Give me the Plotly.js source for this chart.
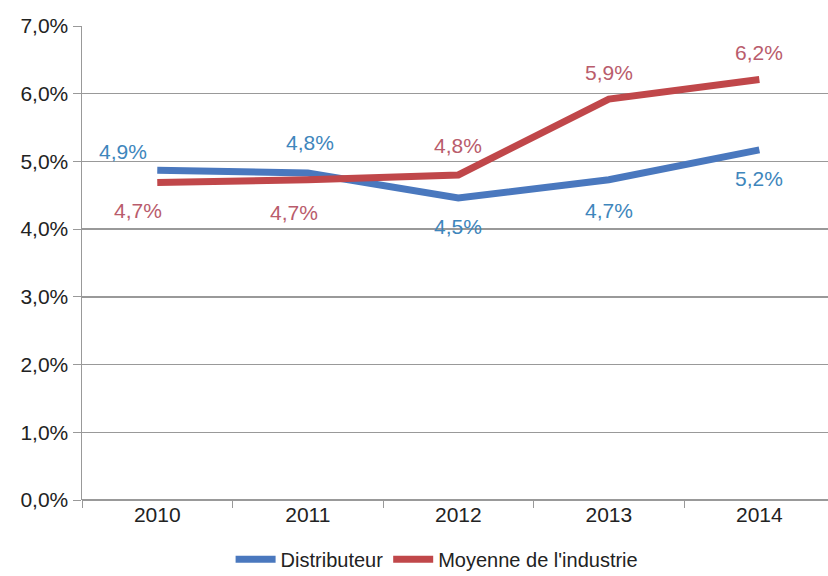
<!DOCTYPE html>
<html>
<head>
<meta charset="utf-8">
<script src="https://cdn.plot.ly/plotly-3.0.1.min.js"></script>
<style>html,body{margin:0;padding:0;background:#fff;}#chart{width:828px;height:576px;}</style>
</head>
<body>
<div id="chart"></div>
<script>
const years = ['2010', '2011', '2012', '2013', '2014'];
const distributeur = [4.87, 4.83, 4.46, 4.73, 5.17];
const moyenneIndustrie = [4.69, 4.73, 4.80, 5.92, 6.21];
const seriesNames = ['Distributeur', "Moyenne de l'industrie"];

// label offsets (pixels) for each point's data label
const blueShift = [[-34, 19], [2, 30], [0, -29], [0, -31], [0, -29]];
const redShift = [[-19, -28], [-14, -33], [0, 29], [0, 27], [0, 27]];

const blueLine = '#4A78BE';
const redLine = '#C0474A';
const blueText = '#3E86BC';
const redText = '#B95C6C';
const font = 'Liberation Sans, Arial, sans-serif';

function fmt(v) { return v.toFixed(1).replace('.', ',') + '%'; }

const traces = [
  {x: years, y: distributeur, name: seriesNames[0], type: 'scatter', mode: 'lines',
   line: {color: blueLine, width: 7}, hoverinfo: 'skip'},
  {x: years, y: moyenneIndustrie, name: seriesNames[1], type: 'scatter', mode: 'lines',
   line: {color: redLine, width: 7}, hoverinfo: 'skip'}
];

const annotations = [];
years.forEach((yr, i) => {
  annotations.push({x: i, y: distributeur[i], xref: 'x', yref: 'y', text: fmt(distributeur[i]),
    showarrow: false, xshift: blueShift[i][0], yshift: blueShift[i][1],
    font: {family: font, size: 21, color: blueText}});
  annotations.push({x: i, y: moyenneIndustrie[i], xref: 'x', yref: 'y', text: fmt(moyenneIndustrie[i]),
    showarrow: false, xshift: redShift[i][0], yshift: redShift[i][1],
    font: {family: font, size: 21, color: redText}});
});

const layout = {
  width: 828, height: 576,
  margin: {l: 82, r: 0, t: 26, b: 76, autoexpand: false},
  paper_bgcolor: '#ffffff', plot_bgcolor: '#ffffff',
  separators: ',.',
  showlegend: true,
  legend: {orientation: 'h', x: 0.476, xanchor: 'center', y: -0.125, yanchor: 'middle',
    bgcolor: 'rgba(0,0,0,0)',
    font: {family: font, size: 20, color: '#222'}, itemwidth: 40, tracegroupgap: 0},
  font: {family: font, size: 21, color: '#333'},
  xaxis: {type: 'category', range: [-0.5, 4.456], showgrid: false, zeroline: false,
    showline: false, ticks: 'outside', tickson: 'boundaries', ticklen: 7, tickcolor: '#999',
    tickfont: {family: font, size: 21, color: '#222'}, fixedrange: true},
  yaxis: {range: [0, 7], dtick: 1, tickformat: '.1f', ticksuffix: '%', showgrid: true,
    gridcolor: '#999', gridwidth: 1.5, zeroline: true, zerolinecolor: '#999', zerolinewidth: 1.5,
    showline: true, linecolor: '#999', linewidth: 1.5, ticks: 'outside', ticklen: 8, tickcolor: '#999',
    tickfont: {family: font, size: 21, color: '#222'}, fixedrange: true},
  annotations: annotations
};

Plotly.newPlot('chart', traces, layout, {displayModeBar: false, staticPlot: true});
</script>
</body>
</html>
